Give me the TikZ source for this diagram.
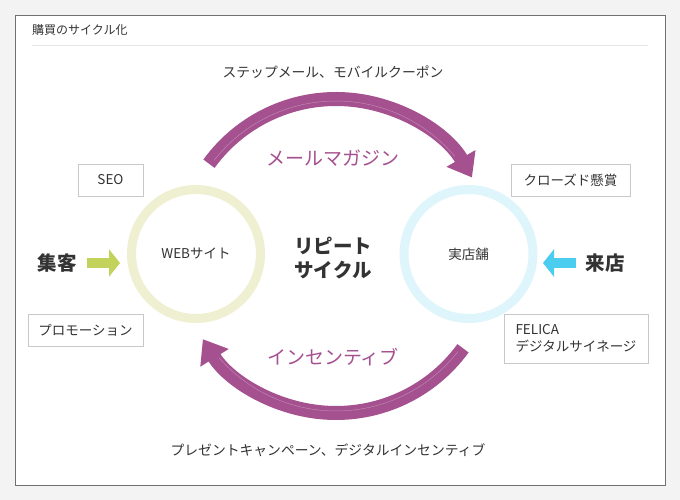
\documentclass[tikz,border=0pt]{standalone}
\usepackage{fontspec}
\setmainfont{Noto Sans CJK JP}
\usepackage{xcolor}
\usetikzlibrary{arrows.meta,positioning}
\definecolor{pagebg}{HTML}{F3F3F3}
\definecolor{frameline}{HTML}{707070}
\definecolor{ruleline}{HTML}{E6E6E6}
\definecolor{boxline}{HTML}{C8C8C8}
\definecolor{txtgray}{HTML}{333333}
\definecolor{cycpurple}{HTML}{A5508F}
\definecolor{ringweb}{HTML}{EFF0D2}
\definecolor{ringshop}{HTML}{DFF5FC}
\definecolor{ingreen}{HTML}{C3D25A}
\definecolor{incyan}{HTML}{4BCDF0}
\tikzset{
  ring/.style={draw, circle, line width=9pt, minimum size=129pt, inner sep=0pt,
               font=\fontsize{13.5}{16}\selectfont, text=txtgray},
  tag/.style={draw=boxline, line width=0.8pt, fill=white, minimum height=32pt,
              inner sep=5pt, font=\fontsize{13.5}{17}\selectfont, text=txtgray},
  big/.style={inner sep=0pt, font=\fontsize{19.5}{24}\selectfont\bfseries, text=txtgray},
  cyclbl/.style={font=\fontsize{19}{22}\selectfont, text=cycpurple},
  toollbl/.style={font=\fontsize{13.8}{16}\selectfont, text=txtgray},
  cycarrow/.style={draw=cycpurple, line width=14pt,
                   -{Triangle[width=32pt,length=22pt]}},
  cycshine/.style={draw=white, line width=0.5pt, opacity=0.3},
  inarrow/.style={line width=10pt, -{Triangle[width=27pt,length=11pt]}},
}
\begin{document}
\begin{tikzpicture}[x=1pt,y=1pt]
  \fill[pagebg] (0,0) rectangle (680,500);
  \useasboundingbox (0,0) rectangle (680,500);
  \draw[frameline, fill=white, line width=0.8pt] (15,15) rectangle (665,485);
  \node[anchor=west, inner sep=0pt, font=\fontsize{12}{14}\selectfont, text=txtgray] (title) at (32,470) {購買のサイクル化};
  \draw[ruleline, line width=0.8pt] (32,455) -- (648,455);

  \coordinate (cyc) at (336,244);
  \coordinate (mailstart) at ([shift={(144:157)}]cyc);
  \coordinate (incstart) at ([shift={(-36:157)}]cyc);
  \draw[cycarrow] (mailstart) arc[start angle=144, end angle=30, radius=157];
  \draw[cycarrow] (incstart) arc[start angle=-36, end angle=-148, radius=157];
  \draw[cycshine] ([shift={(142:155)}]cyc) arc[start angle=142, end angle=40, radius=155];
  \draw[cycshine] ([shift={(-38:155)}]cyc) arc[start angle=-38, end angle=-139, radius=155];

  \node[toollbl] (stepmail) at (333,428) {ステップメール、モバイルクーポン};
  \node[toollbl] (present) at (328,50) {プレゼントキャンペーン、デジタルインセンティブ};
  \node[cyclbl] (mailmag) at (333,342) {メールマガジン};
  \node[cyclbl] (incent) at (333,143) {インセンティブ};

  \node[ring, draw=ringweb] (web) at (196,246) {WEBサイト};
  \node[ring, draw=ringshop] (shop) at (468.5,246) {実店舗};
  \node[big, align=center] (repeat) at (333,242) {リピート\\サイクル};

  \node[tag, minimum width=65pt] (seo) at (110.5,320) {SEO};
  \node[tag, minimum width=115pt] (promo) at (85.5,169.5) {プロモーション};
  \node[tag, minimum width=119pt] (closed) at (570.5,320) {クローズド懸賞};
  \node[tag, minimum width=144pt, minimum height=49pt, align=left] (felica) at (576,161.5) {FELICA\\デジタルサイネージ};

  \node[big] (gather) at (57,237) {集客};
  \node[big] (visit) at (605,237) {来店};
  \draw[inarrow, ingreen, shorten <=10pt, shorten >=7pt] (gather.east) -- (gather.east -| web.west);
  \draw[inarrow, incyan, shorten <=9pt, shorten >=5.5pt] (visit.west) -- (visit.west -| shop.east);
\end{tikzpicture}
\end{document}
